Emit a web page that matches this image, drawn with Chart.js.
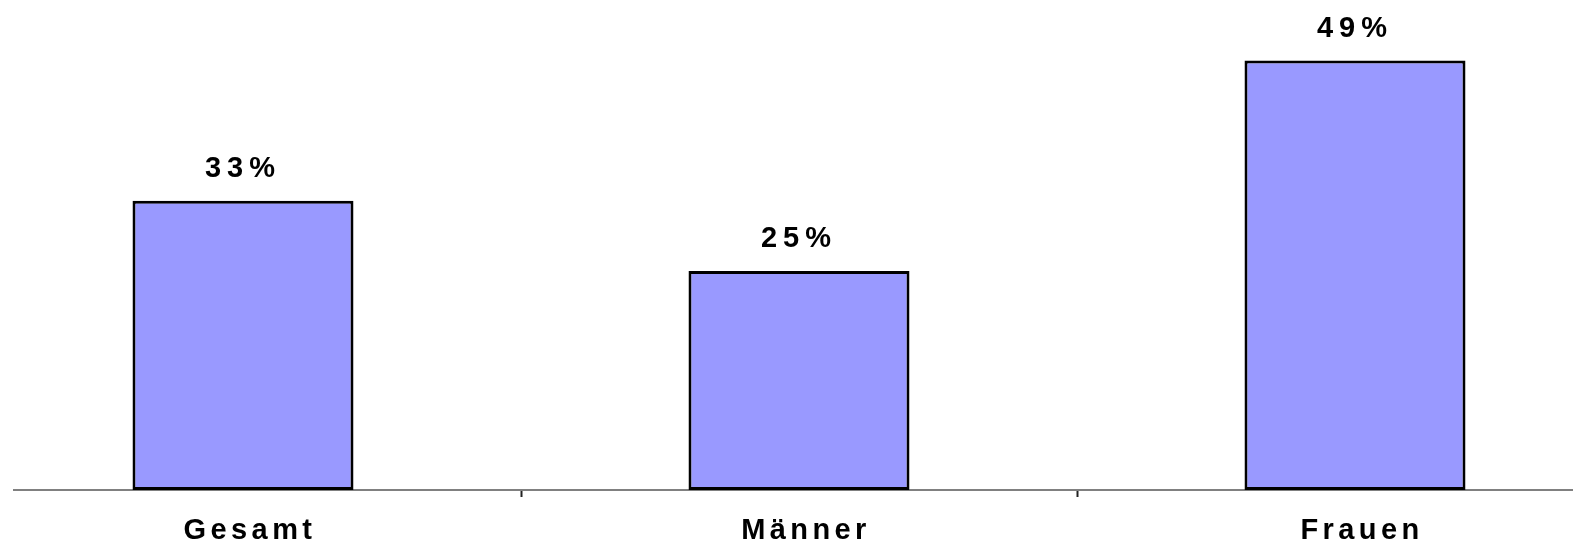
<!DOCTYPE html>
<html>
<head>
<meta charset="utf-8">
<script src="https://cdn.jsdelivr.net/npm/chart.js@4/dist/chart.umd.min.js"></script>
<style>
  html, body { margin: 0; padding: 0; background: #fff; overflow: hidden; width: 1573px; height: 547px; }
  #wrap { position: absolute; left: -35px; top: 0; width: 1668px; height: 547px; }
</style>
</head>
<body>
<div id="wrap"><canvas id="c"></canvas></div>
<script>
const categories = ['Gesamt', 'Männer', 'Frauen'];
const values = [33, 25, 49];
const valueLabels = ['33%', '25%', '49%'];

const FONT = "'Liberation Sans', Arial, sans-serif";
const AXIS_START_PAGE_X = 13;
const CANVAS_PAGE_LEFT = -35;

const spacingPlugin = {
  id: 'spacing',
  beforeDraw(chart) { chart.ctx.letterSpacing = '4.4px'; }
};

const axisLinePlugin = {
  id: 'axisLine',
  beforeDatasetsDraw(chart) {
    const ctx = chart.ctx;
    const y = chart.scales.x.top;
    ctx.save();
    ctx.strokeStyle = '#808080';
    ctx.lineWidth = 2;
    ctx.beginPath();
    ctx.moveTo(AXIS_START_PAGE_X - CANVAS_PAGE_LEFT, y);
    ctx.lineTo(chart.chartArea.right, y);
    ctx.stroke();
    ctx.restore();
  }
};

const valueLabelPlugin = {
  id: 'valueLabels',
  afterDatasetsDraw(chart) {
    const ctx = chart.ctx;
    const meta = chart.getDatasetMeta(0);
    ctx.save();
    ctx.letterSpacing = '6px';
    ctx.font = 'bold 29px ' + FONT;
    ctx.fillStyle = '#000';
    ctx.textAlign = 'center';
    ctx.textBaseline = 'alphabetic';
    meta.data.forEach((bar, i) => {
      ctx.fillText(valueLabels[i], bar.x, bar.y - 24);
    });
    ctx.restore();
  }
};

new Chart(document.getElementById('c'), {
  type: 'bar',
  data: {
    labels: categories,
    datasets: [{
      data: values,
      backgroundColor: '#9999FF',
      borderColor: '#000000',
      borderWidth: 3,
      borderSkipped: false,
      categoryPercentage: 1,
      barPercentage: 0.3975
    }]
  },
  options: {
    responsive: true,
    maintainAspectRatio: false,
    animation: false,
    devicePixelRatio: 1,
    layout: { padding: { left: 0, right: 0, top: 8, bottom: 0 } },
    plugins: { legend: { display: false }, tooltip: { enabled: false } },
    scales: {
      x: {
        offset: true,
        grid: {
          offset: true,
          drawOnChartArea: false,
          drawTicks: true,
          tickLength: 7,
          tickColor: '#222',
          tickWidth: 2
        },
        border: { display: false },
        ticks: {
          color: '#000',
          font: { family: FONT, size: 29, weight: 'bold' },
          padding: 17,
          labelOffset: 7,
          maxRotation: 0,
          autoSkip: false
        },
        afterFit(s) { s.height = 57; }
      },
      y: {
        display: false,
        min: 0,
        max: 55
      }
    }
  },
  plugins: [spacingPlugin, axisLinePlugin, valueLabelPlugin]
});
</script>
</body>
</html>
